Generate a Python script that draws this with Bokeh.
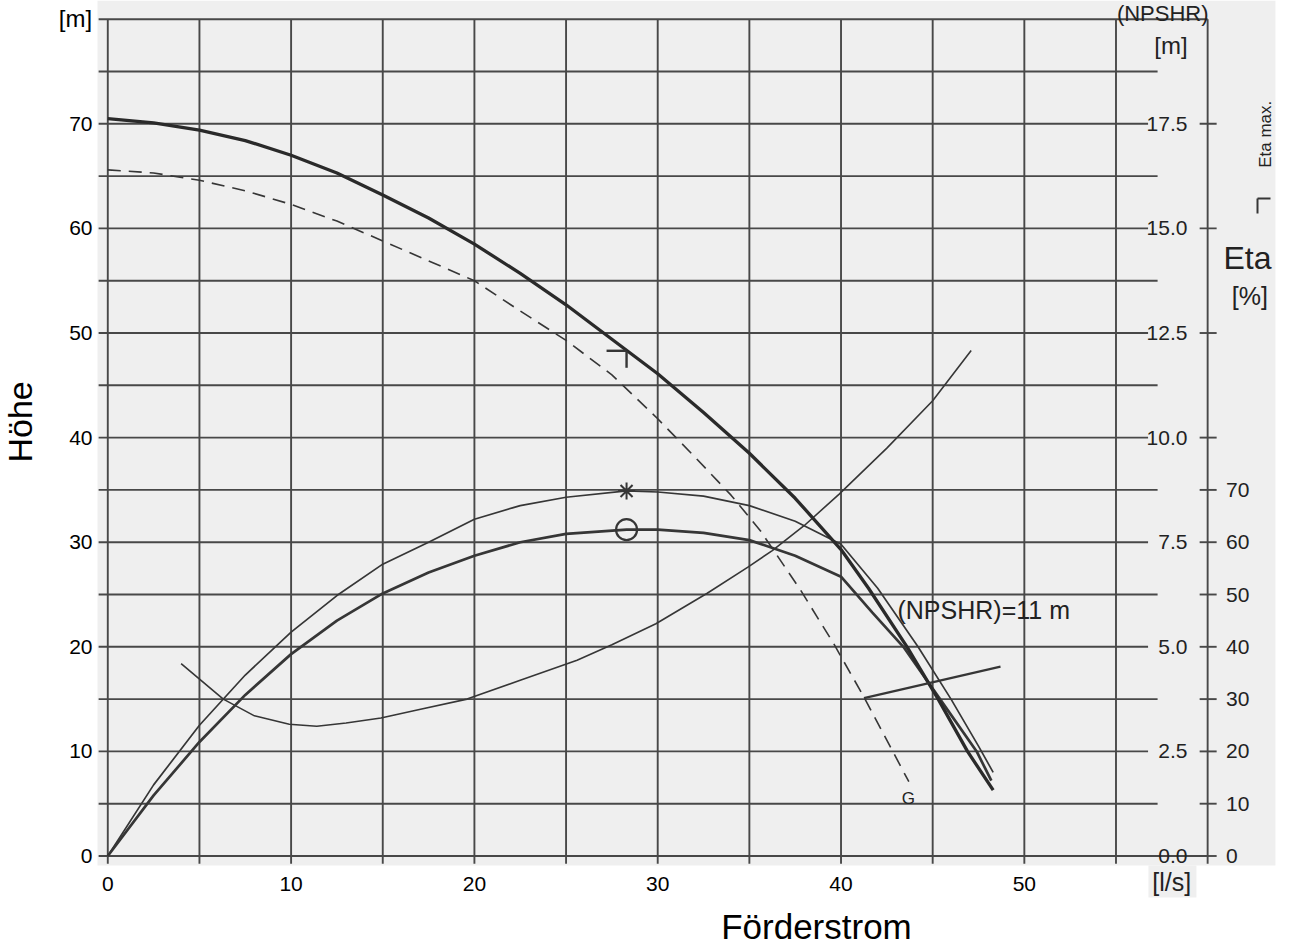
import math
from bokeh.plotting import figure
from bokeh.models import Range1d
from bokeh.core.properties import value
from bokeh.embed import file_html
from bokeh.resources import INLINE

# ---------------- data ----------------
# Förderstrom Q [l/s]
q_head = [0, 2.5, 5, 7.5, 10, 12.5, 15, 17.5, 20, 22.5, 25, 27.5, 30, 32.5, 35, 37.5, 40, 41.5, 43.6, 45.3, 46.9, 48.3]
h_head = [70.5, 70.1, 69.4, 68.4, 67.0, 65.3, 63.2, 61.0, 58.5, 55.7, 52.7, 49.4, 46.1, 42.4, 38.5, 34.2, 29.3, 25.6, 20.0, 15.0, 10.0, 6.3]

q_g = [0, 2.5, 5, 7.5, 10, 12.5, 15, 17.5, 20, 22.5, 25, 27.5, 30, 32, 34, 35.6, 37.8, 39.6, 41.25, 43.7]
h_g = [65.6, 65.3, 64.6, 63.6, 62.3, 60.7, 58.8, 56.9, 55.0, 52.1, 49.3, 46.0, 41.8, 38.2, 34.5, 31.1, 25.4, 20.3, 15.2, 7.1]

q_eta1 = [0, 2.5, 5, 7.5, 10, 12.5, 15, 17.5, 20, 22.5, 25, 28.3, 30, 32.5, 35, 37.5, 40, 42, 44.2, 46, 47.5, 48.3]
eta1 = [0, 13.6, 25.0, 34.6, 42.8, 49.8, 55.8, 60.0, 64.4, 67.0, 68.6, 69.8, 69.6, 68.8, 67.0, 64.0, 59.6, 51.2, 40.0, 30.0, 21.0, 16.0]

q_eta2 = [0, 2.5, 5, 7.5, 10, 12.5, 15, 17.5, 20, 22.5, 25, 28.3, 30, 32.5, 35, 37.5, 40, 41.7, 43.4, 45.4, 47.4, 48.2]
eta2 = [0, 11.6, 21.8, 30.8, 38.6, 45.0, 50.2, 54.2, 57.4, 60.0, 61.6, 62.4, 62.4, 61.8, 60.4, 57.4, 53.4, 46.6, 40.0, 30.0, 20.0, 14.4]

q_npsh = [4.0, 6.3, 8, 9.9, 11.4, 13, 14.9, 17, 19.6, 22.5, 25.6, 27.5, 29.9, 32.7, 34.9, 36.25, 38, 39.9, 42.5, 45, 47.1]
npsh = [4.6, 3.75, 3.35, 3.15, 3.1, 3.18, 3.3, 3.5, 3.75, 4.2, 4.68, 5.05, 5.55, 6.28, 6.9, 7.3, 7.9, 8.65, 9.75, 10.88, 12.08]

q_npshr_line = [41.25, 48.7]
h_npshr_line = [15.1, 18.1]

eta_max_q = [28.3]
eta_max_head = [48.3]
eta_max_eta1 = [69.8]
eta_max_eta2 = [62.4]

x_ticks = [0, 10, 20, 30, 40, 50]
y_ticks = [0, 10, 20, 30, 40, 50, 60, 70]
npshr_ticks = [0.0, 2.5, 5.0, 7.5, 10.0, 12.5, 15.0, 17.5]
eta_ticks = [0, 10, 20, 30, 40, 50, 60, 70]
grid_q = [0, 5, 10, 15, 20, 25, 30, 35, 40, 45, 50, 55]
grid_h = [0, 5, 10, 15, 20, 25, 30, 35, 40, 45, 50, 55, 60, 65, 70, 75]
top_h = 80

# scale relations of the secondary axes to the head axis
NPSHR_TO_H = 4.0
ETA_TO_H = 0.5

# ---------------- figure ----------------
FONT = "Liberation Sans"
INK = "#363636"
GRID = "#484848"
TXT = "#222222"

W, H = 1290, 947
XR = (-5.853, 64.52)
YR = (-8.748, 81.79)
SX = W / (XR[1] - XR[0])
SY = H / (YR[1] - YR[0])

p = figure(width=W, height=H, x_range=Range1d(*XR), y_range=Range1d(*YR),
           output_backend="svg", toolbar_location=None,
           x_axis_location=None, y_axis_location=None,
           min_border_left=0, min_border_right=0, min_border_top=0, min_border_bottom=0)
p.background_fill_color = "white"
p.border_fill_color = "white"
p.outline_line_color = None
p.xgrid.visible = False
p.ygrid.visible = False

# scanned sheet background
p.quad(left=[-0.56, 56.77], right=[63.7, 59.39], bottom=[-0.91, -3.97], top=[81.79, -0.91],
       fill_color="#efefef", line_color=None)

# grid
n_end = 57.27
lab_end = 56.75
h_x0 = [-0.5] * len(grid_h)
h_x1 = [60.0 if h == 0 else (lab_end if (h % 10 == 0) else n_end) for h in grid_h]
p.segment(x0=h_x0, y0=grid_h, x1=h_x1, y1=grid_h, line_color=GRID, line_width=1.9)
p.segment(x0=[-0.5], y0=[top_h], x1=[60.0], y1=[top_h], line_color=GRID, line_width=1.9)
p.segment(x0=grid_q, y0=[-0.75] * len(grid_q), x1=grid_q, y1=[top_h] * len(grid_q),
          line_color=GRID, line_width=1.9)
# eta axis line and its ticks
p.segment(x0=[60.0], y0=[-0.75], x1=[60.0], y1=[top_h], line_color=GRID, line_width=1.9)
tick_h = sorted(set([e * ETA_TO_H for e in eta_ticks] + [n * NPSHR_TO_H for n in npshr_ticks]))
p.segment(x0=[60.0 - 8 / SX] * len(tick_h), y0=tick_h, x1=[60.0 + 9 / SX] * len(tick_h), y1=tick_h,
          line_color=GRID, line_width=1.9)

def txt(x, y, t, size, align="center", angle=0.0, color=TXT):
    p.text(x=x, y=y, text=t, text_font=value(FONT), text_font_size=size, angle=angle,
           text_align=align, text_baseline="middle", text_color=color)

# tick labels: head (left), flow (bottom), NPSHR and Eta (right)
txt([-0.835] * len(y_ticks), y_ticks, [str(v) for v in y_ticks], "21px", "right", color="black")
txt(x_ticks, [-2.7] * len(x_ticks), [str(v) for v in x_ticks], "21px", "center", color="black")
txt([58.9] * len(npshr_ticks), [n * NPSHR_TO_H for n in npshr_ticks],
    [f"{n:.1f}" for n in npshr_ticks], "21px", "right")
txt([61.0] * len(eta_ticks), [e * ETA_TO_H for e in eta_ticks], [str(e) for e in eta_ticks], "21px", "left")

# curves
p.line(q_g, h_g, line_color=INK, line_width=1.6, line_dash="13 8")
p.line(q_npsh, [v * NPSHR_TO_H for v in npsh], line_color=INK, line_width=1.6)
p.line(q_eta1, [v * ETA_TO_H for v in eta1], line_color=INK, line_width=1.7)
p.line(q_eta2, [v * ETA_TO_H for v in eta2], line_color=INK, line_width=2.7)
p.line(q_head, h_head, line_color="#2a2a2a", line_width=3.3)
p.line(q_npshr_line, h_npshr_line, line_color=INK, line_width=2.2)

# markers at eta max
p.scatter(eta_max_q, [v * ETA_TO_H for v in eta_max_eta1], marker="asterisk", size=17,
          line_color=INK, line_width=2)
p.scatter(eta_max_q, [v * ETA_TO_H for v in eta_max_eta2], marker="circle", size=21,
          fill_color=None, line_color=INK, line_width=2.2)
cx, cy = eta_max_q[0], eta_max_head[0]
p.multi_line(xs=[[cx - 20 / SX, cx], [cx, cx]], ys=[[cy, cy], [cy, cy - 17 / SY]],
             line_color=INK, line_width=2.4)

# annotations
txt([43.08], [23.5], ["(NPSHR)=11 m"], "25px", "left")
txt([43.68], [5.5], ["G"], "17px")
txt([58.0], [77.5], ["[m]"], "24px")
txt([57.55], [80.5], ["(NPSHR)"], "22px")
txt([63.17], [69.0], ["Eta max."], "17px", angle=math.pi / 2)
lx, ly = 62.72, 62.86
p.multi_line(xs=[[lx, lx + 13 / SX], [lx, lx]], ys=[[ly, ly], [ly, ly - 15 / SY]],
             line_color=INK, line_width=2)
txt([62.17], [57.2], ["Eta"], "32px")
txt([62.3], [53.5], ["[%]"], "25px")

# axis titles / units
txt([-1.76], [80.07], ["[m]"], "24px", color="black")
txt([-4.77], [41.5], ["Höhe"], "34px", angle=math.pi / 2, color="black")
txt([38.66], [-6.7], ["Förderstrom"], "35px", color="black")
txt([58.04], [-2.53], ["[l/s]"], "25px")

open("out.html", "w").write(file_html(p, INLINE))
